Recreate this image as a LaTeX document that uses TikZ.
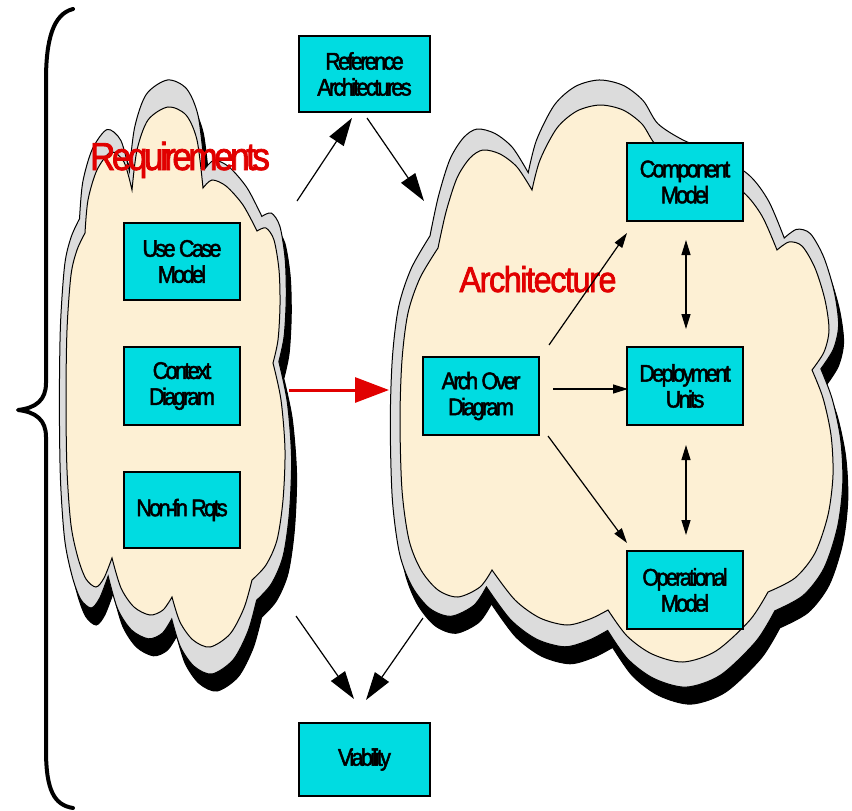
\documentclass[tikz,border=0pt]{standalone}
\usepackage{fontspec}
\setmainfont{Liberation Sans}
\newfontfamily\boxfont[FakeStretch=0.9,LetterSpace=-11,FakeBold=2]{Liberation Sans}
\newfontfamily\reqfont[FakeStretch=0.9,LetterSpace=-9,FakeBold=2]{Liberation Sans}
\newfontfamily\archfont[FakeStretch=0.9,LetterSpace=-4,FakeBold=2]{Liberation Sans}
\usetikzlibrary{arrows.meta}
\definecolor{beige}{RGB}{253,240,212}
\definecolor{cloudgray}{RGB}{220,220,220}
\definecolor{boxcyan}{RGB}{0,220,225}
\definecolor{redtxt}{RGB}{225,0,0}

\newcommand\reqcloud[1]{\filldraw[cloudline,#1]
 plot[smooth] coordinates {(85,233) (88,200) (97,170) (111,152) (124,162) (132,190)}
 -- plot[smooth] coordinates {(132,190) (137,150) (148,120) (168,107) (186,115) (197,140) (203,188)}
 -- plot[smooth] coordinates {(203,188) (212,180) (226,186) (243,205) (257,231)}
 -- plot[smooth] coordinates {(257,231) (266,228) (274,240) (279,270) (280,305) (278,340) (273,363)}
 -- plot[smooth] coordinates {(273,363) (281,400) (285,450) (283,500) (277,540) (266,565) (252,580)}
 -- plot[smooth] coordinates {(252,580) (244,608) (230,634) (210,647) (193,640) (180,622) (172,597)}
 -- plot[smooth] coordinates {(172,597) (163,610) (150,615) (134,607) (121,588) (112,558)}
 -- plot[smooth] coordinates {(112,558) (104,578) (96,587) (86,579) (78,558) (71,525) (67,470) (66,400) (67,330) (71,275) (77,250) (85,233)}
 -- cycle;}

\newcommand\archcloud[1]{\filldraw[cloudline,#1]
 plot[smooth] coordinates {(438,248) (446,212) (457,178) (470,158) (483,150) (500,154) (517,167) (532,190)}
 -- plot[smooth] coordinates {(532,190) (540,160) (557,128) (577,111) (600,105) (623,110) (642,124) (656,145) (680,160) (710,172) (743,192) (762,216) (777,250)}
 -- plot[smooth] coordinates {(777,250) (789,242) (802,246) (815,268) (825,300) (829,330) (824,352) (812,370)}
 -- plot[smooth] coordinates {(812,370) (823,398) (831,435) (833,475) (828,515) (815,553) (795,578) (768,592)}
 -- plot[smooth] coordinates {(768,592) (750,620) (716,651) (683,662) (652,654) (627,636) (608,610)}
 -- plot[smooth] coordinates {(608,610) (590,619) (567,625) (540,618) (515,600) (492,570)}
 -- plot[smooth] coordinates {(492,570) (480,587) (458,597) (438,590) (421,570) (409,540) (402,490) (400,420) (402,360) (408,313) (420,278) (438,248)}
 -- cycle;}

\begin{document}
\begin{tikzpicture}[x=1pt,y=-1pt,
  cloudline/.style={draw=black,line width=1pt},
  box/.style={draw=black,line width=1.3pt,fill=boxcyan,inner sep=0pt,align=center,
     font=\boxfont\fontsize{24}{26}\selectfont},
  bigbox/.style={box,minimum width=131pt},
  smallbox/.style={box,minimum width=116pt,minimum height=78pt},
  conn/.style={draw=black,line width=1.2pt,-{Triangle[length=28pt,width=17pt]}},
  inconn/.style={draw=black,line width=1.2pt,-{Triangle[length=15pt,width=9pt]}},
  dblconn/.style={draw=black,line width=1.2pt,{Triangle[length=15pt,width=9pt]}-{Triangle[length=15pt,width=9pt]}},
  redconn/.style={draw=redtxt,line width=3pt,-{Triangle[length=34pt,width=25pt]}},
  bracestyle/.style={draw=black,line width=4pt,line join=round,line cap=round}
]
\useasboundingbox (0,0) rectangle (852,811);

% brace
\path[bracestyle] (73,9) .. controls (53,14) and (46,40) .. (46,80) -- (46,383)
  .. controls (46,400) and (36,408) .. (18,410)
  .. controls (36,412) and (46,420) .. (46,437) -- (46,750)
  .. controls (46,790) and (54,805) .. (73,808);

% Requirements cloud
\reqcloud{fill=black, shift={(5,17)}, shift={(176,377)}, xscale=1.06, yscale=1.1, shift={(-176,-377)}}
\reqcloud{fill=cloudgray, shift={(176,377)}, xscale=1.06, yscale=1.1, shift={(-176,-377)}}
\reqcloud{fill=beige}

% Architecture cloud
\archcloud{fill=black, shift={(5,17)}, shift={(616,383)}, xscale=1.045, yscale=1.09, shift={(-616,-383)}}
\archcloud{fill=cloudgray, shift={(616,383)}, xscale=1.045, yscale=1.09, shift={(-616,-383)}}
\archcloud{fill=beige}

% titles
\node[text=redtxt,font=\reqfont\fontsize{39}{39}\selectfont,anchor=base,inner sep=0pt] (reqtitle) at (180,170) {Requirements};
\node[text=redtxt,font=\archfont\fontsize{36}{36}\selectfont,anchor=base,inner sep=0pt] (archtitle) at (538,292) {Architecture};

% boxes
\node[bigbox,minimum height=76pt] (ref) at (364.5,74) {Reference\\Architectures};
\node[smallbox,minimum height=77pt] (uc) at (182,261.5) {Use Case\\Model};
\node[smallbox] (ctx) at (182,386) {Context\\Diagram};
\node[smallbox,minimum height=76pt] (nfr) at (182,510) {Non-fn Rqts};
\node[smallbox] (aod) at (481,396) {Arch Over\\Diagram};
\node[smallbox] (comp) at (685,182) {Component\\Model};
\node[smallbox] (dep) at (685,386) {Deployment\\Units};
\node[smallbox] (ops) at (685,590) {Operational\\Model};
\node[bigbox,minimum height=73pt] (via) at (364.5,759.5) {Viability};

% connector end points
\coordinate (a1s) at (297,201); \coordinate (a1e) at (352,118);
\coordinate (a2s) at (367,118); \coordinate (a2e) at (424,201);
\coordinate (rs) at (289,390);  \coordinate (re) at (389,390);
\coordinate (a3s) at (549,345); \coordinate (a3e) at (627,233);
\coordinate (a4s) at (553,389); \coordinate (a4e) at (628,389);
\coordinate (a5s) at (548,436); \coordinate (a5e) at (627,543);
\coordinate (a6s) at (686,240); \coordinate (a6e) at (686,329);
\coordinate (a7s) at (686,445); \coordinate (a7e) at (686,535);
\coordinate (a8s) at (296,616); \coordinate (a8e) at (354,699);
\coordinate (a9s) at (423,618); \coordinate (a9e) at (366,700);

\path[conn] (a1s) -- (a1e);
\path[conn] (a2s) -- (a2e);
\path[redconn] (rs) -- (re);
\path[inconn] (a3s) -- (a3e);
\path[inconn] (a4s) -- (a4e);
\path[inconn] (a5s) -- (a5e);
\path[dblconn] (a6s) -- (a6e);
\path[dblconn] (a7s) -- (a7e);
\path[conn] (a8s) -- (a8e);
\path[conn] (a9s) -- (a9e);
\end{tikzpicture}
\end{document}
